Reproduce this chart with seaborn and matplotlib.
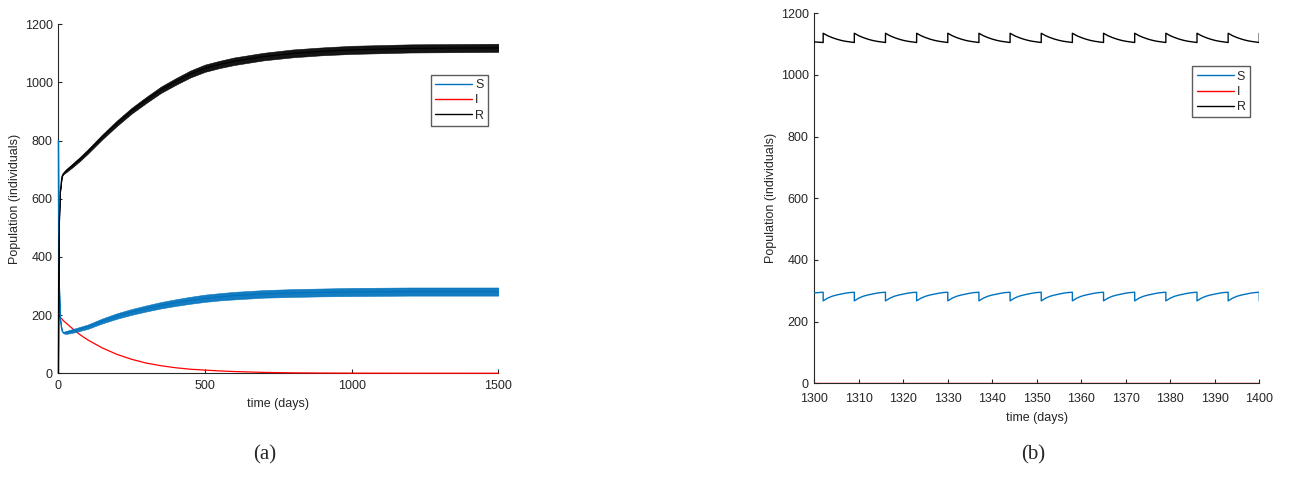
import numpy as np
import pandas as pd
import matplotlib
matplotlib.use("Agg")
import matplotlib.pyplot as plt
import seaborn as sns

# ---------------- data ----------------
# (a) long-run simulation: slow trend of each compartment plus the width of the
# band traced by the weekly pulse oscillation
t_long = [0, 1, 3, 6, 12, 16, 25, 50, 75, 100, 150, 200, 250, 300, 350, 400, 450,
          500, 550, 600, 700, 800, 900, 1000, 1200, 1500]
S_long = [800, 500, 300, 190, 148, 140, 140, 146, 153, 160, 180, 197, 211, 223, 234, 243, 251,
          258, 263, 267, 273, 276, 278, 279.5, 281, 281]
S_band = [0, 0, 0, 0, 0, 4, 10, 13, 14, 15, 17, 19, 20, 21, 22, 23, 24,
          25, 25, 26, 26, 27, 27, 28, 28, 28]
I_long = [200, 199, 197, 193, 187, 182, 174, 152, 132, 115, 87, 65, 48, 35, 26, 19, 14,
          11, 8, 6, 3, 1.5, 0.8, 0.4, 0.1, 0]
R_long = [0, 300, 520, 620, 675, 685, 695, 716, 738, 762, 813, 860, 903, 940, 975, 1003, 1029,
          1049, 1062, 1073, 1089, 1100, 1107, 1112, 1117, 1119]

# (b) zoom on days 1300-1400: pulse days and the values over one 7-day cycle
pulse_days = [1302, 1309, 1316, 1323, 1330, 1337, 1344, 1351, 1358, 1365, 1372, 1379, 1386, 1393, 1400]
lead_days = [1300, 1301]
S_lead = [293, 294]
R_lead = [1107, 1106]
S_after_pulse = [267, 276, 282, 286, 289, 292, 294]   # days 0..6 after a pulse
R_after_pulse = [1135, 1127, 1121, 1116, 1112, 1109, 1107]
S_before_pulse = 295
R_before_pulse = 1105
I_zoom = 0.0

labels = ["S", "I", "R"]
colors = {"S": "#0072BD", "I": "#FF0000", "R": "#000000"}

# ---------------- frames ----------------
long_df = pd.concat([
    pd.DataFrame({"time": t_long, "value": S_long, "comp": "S"}),
    pd.DataFrame({"time": t_long, "value": I_long, "comp": "I"}),
    pd.DataFrame({"time": t_long, "value": R_long, "comp": "R"}),
], ignore_index=True)

tz, Sz, Rz = list(lead_days), list(S_lead), list(R_lead)
for p in pulse_days:
    tz.append(p); Sz.append(S_before_pulse); Rz.append(R_before_pulse)
    steps = range(len(S_after_pulse)) if p < pulse_days[-1] else range(1)
    for j in steps:
        tz.append(p + j); Sz.append(S_after_pulse[j]); Rz.append(R_after_pulse[j])
zoom_df = pd.concat([
    pd.DataFrame({"time": tz, "value": Sz, "comp": "S"}),
    pd.DataFrame({"time": [tz[0], tz[-1]], "value": [I_zoom, I_zoom], "comp": "I"}),
    pd.DataFrame({"time": tz, "value": Rz, "comp": "R"}),
], ignore_index=True)

# ---------------- style ----------------
sns.set_style("ticks")
plt.rcParams.update({
    "font.family": ["Liberation Sans", "DejaVu Sans"],
    "xtick.direction": "in",
    "ytick.direction": "in",
    "xtick.major.size": 3,
    "ytick.major.size": 3,
    "axes.edgecolor": "#262626",
    "xtick.color": "#262626",
    "ytick.color": "#262626",
    "axes.linewidth": 0.8,
})

fig = plt.figure(figsize=(13.02, 4.79), dpi=100)
ax1 = fig.add_axes([0.0448, 0.2207, 0.338, 0.7286])
ax2 = fig.add_axes([0.6254, 0.2000, 0.3418, 0.7724])


def style_axes(ax, legend_anchor, xpad, labelpad):
    ax.set_ylim(0, 1200)
    ax.set_yticks(range(0, 1201, 200))
    ax.set_xlabel("time (days)", fontsize=9, labelpad=labelpad, color="#262626")
    ax.set_ylabel("Population (individuals)", fontsize=9, labelpad=3, color="#262626")
    ax.tick_params(axis="x", labelsize=9, pad=xpad, width=0.8)
    ax.tick_params(axis="y", labelsize=9, pad=4, width=0.8)
    sns.despine(ax=ax)
    leg = ax.legend(loc="upper right", bbox_to_anchor=legend_anchor, borderaxespad=0,
                    fontsize=9, frameon=True, fancybox=False, edgecolor="#333333",
                    handlelength=3.0, handletextpad=0.2, borderpad=0.35, labelspacing=0.25)
    leg.get_frame().set_linewidth(1.0)
    for line in leg.get_lines():
        line.set_linewidth(1.0)


# (a)
sns.lineplot(data=long_df, x="time", y="value", hue="comp", hue_order=labels,
             palette=colors, estimator=None, sort=False, linewidth=0.9, ax=ax1)
for line in ax1.get_lines():
    line.set_zorder(3)
    line.set_clip_on(False)
for name, mid, width in [("S", S_long, S_band), ("R", R_long, S_band)]:
    mid = np.asarray(mid, float)
    half = np.asarray(width, float) / 2
    ax1.fill_between(t_long, mid - half, mid + half, color=colors[name], alpha=0.92,
                     linewidth=0.4, edgecolor=colors[name], zorder=3)
ax1.set_xlim(0, 1500)
ax1.set_xticks([0, 500, 1000, 1500])
style_axes(ax1, (0.977, 0.855), xpad=5, labelpad=4)

# (b)
sns.lineplot(data=zoom_df, x="time", y="value", hue="comp", hue_order=labels,
             palette=colors, estimator=None, sort=False, linewidth=1.0, ax=ax2)
for line in ax2.get_lines():
    line.set_zorder(3)
ax2.set_xlim(1300, 1400)
ax2.set_xticks(range(1300, 1401, 10))
style_axes(ax2, (0.979, 0.856), xpad=7, labelpad=5)

fig.text(0.2035, 0.03, "(a)", fontsize=15, family="Liberation Serif", ha="center", va="bottom")
fig.text(0.7935, 0.03, "(b)", fontsize=15, family="Liberation Serif", ha="center", va="bottom")

fig.savefig("out.png", dpi=100)
